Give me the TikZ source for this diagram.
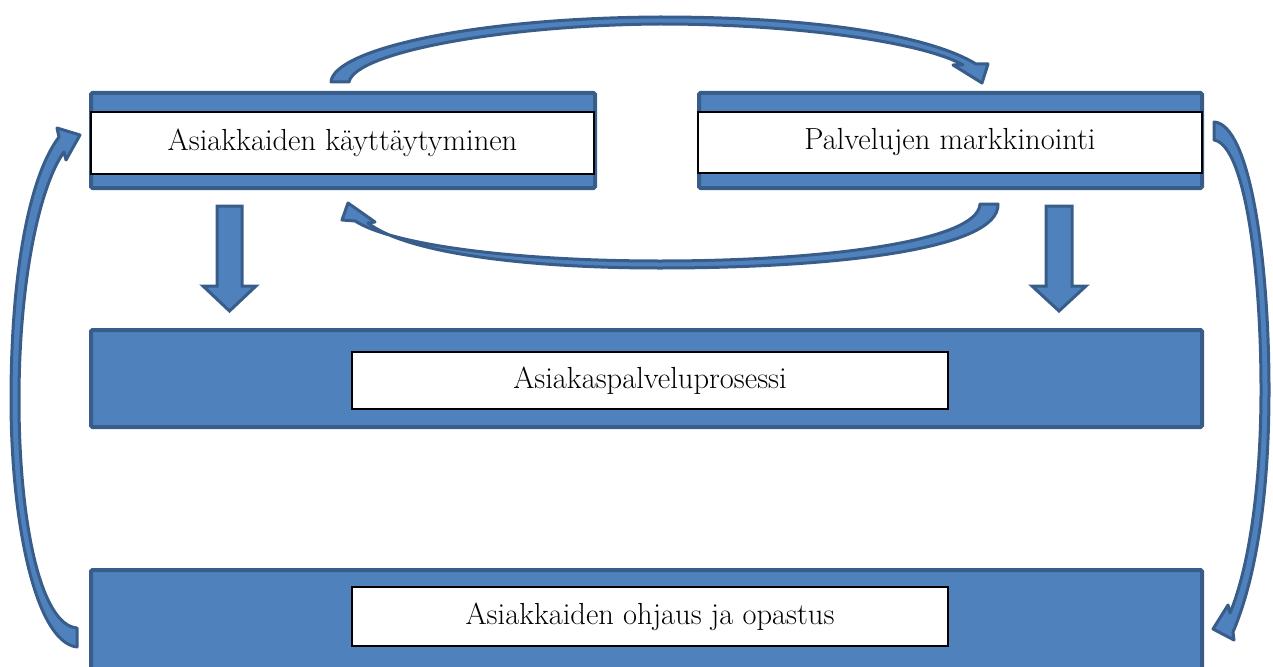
\documentclass[tikz,border=0pt]{standalone}
\usepackage{fontspec}
\definecolor{boxfill}{HTML}{4F81BD}
\definecolor{boxline}{HTML}{385D8A}
\tikzset{
  bluebox/.style={draw=boxline,fill=boxfill,line width=4pt,rounded corners=1.5pt},
  whitebox/.style={draw=black,fill=white,line width=1.2pt,inner sep=0pt,
    font=\fontsize{30.5}{36}\selectfont},
  bluearrow/.style={draw=boxline,fill=boxfill,line width=3pt,line join=round}
}
\begin{document}
\begin{tikzpicture}[x=1pt,y=-1pt]
\useasboundingbox (0,0) rectangle (1273,666);
\begin{scope}
\clip (0,0) rectangle (1273,666);
% outer blue boxes
\draw[bluebox] (91,93) rectangle (595,188);
\draw[bluebox] (699,93) rectangle (1202,188);
\draw[bluebox] (91,330) rectangle (1202,427);
\draw[bluebox] (91,570) rectangle (1202,690);
\end{scope}
% white text boxes
\node[whitebox,minimum width=503pt,minimum height=62pt] (kay) at (342.5,143) {Asiakkaiden käyttäytyminen};
\node[whitebox,minimum width=504pt,minimum height=61pt] (mark) at (950,142.5) {Palvelujen markkinointi};
\node[whitebox,minimum width=596pt,minimum height=57pt] (proc) at (650,380.5) {Asiakaspalveluprosessi};
\node[whitebox,minimum width=596pt,minimum height=59pt] (ohj) at (650,616.5) {Asiakkaiden ohjaus ja opastus};
% down block arrows
\draw[bluearrow,line join=miter] (217,206) -- (242,206) -- (242,286) -- (256,286) -- (229.5,311) -- (203,286) -- (217,286) -- cycle;
\draw[bluearrow,line join=miter] (1046,206) -- (1072,206) -- (1072,286) -- (1086,286) -- (1059,311) -- (1032,286) -- (1046,286) -- cycle;
% top arch: from Asiakkaiden kayttaytyminen to Palvelujen markkinointi
\draw[bluearrow] (331,82) .. controls (333,50) and (470,18) .. (660,17)
  .. controls (820,17) and (930,36) .. (976,64) -- (988,64) -- (982,83) -- (953,65) -- (963,65)
  .. controls (925,43) and (800,24) .. (660,24)
  .. controls (505,25) and (355,52) .. (349,82) -- cycle;
% bottom arch: from Palvelujen markkinointi back to Asiakkaiden kayttaytyminen
\draw[bluearrow] (998,204) .. controls (1000,250) and (830,268) .. (660,268)
  .. controls (520,268) and (405,252) .. (368,223) -- (375,222) -- (348,203) -- (342,220) -- (355,221)
  .. controls (395,246) and (520,261) .. (660,261)
  .. controls (820,261) and (978,242) .. (980,204) -- cycle;
% left arc: from Asiakkaiden ohjaus back up to Asiakkaiden kayttaytyminen
\draw[bluearrow] (77,647) .. controls (35,642) and (11,520) .. (11,400)
  .. controls (11,270) and (30,175) .. (59,137) -- (57,128) -- (80,135) -- (66,160) -- (64,152)
  .. controls (40,185) and (19,280) .. (19,400)
  .. controls (19,520) and (40,625) .. (77,628) -- cycle;
% right arc: from Palvelujen markkinointi down to Asiakkaiden ohjaus
\draw[bluearrow] (1214,122) .. controls (1250,124) and (1269,260) .. (1269,390)
  .. controls (1269,500) and (1255,580) .. (1233,632) -- (1234,640) -- (1213,629) -- (1228,605) -- (1230,613)
  .. controls (1248,570) and (1261,490) .. (1261,390)
  .. controls (1261,270) and (1245,145) .. (1214,140) -- cycle;
\end{tikzpicture}
\end{document}
